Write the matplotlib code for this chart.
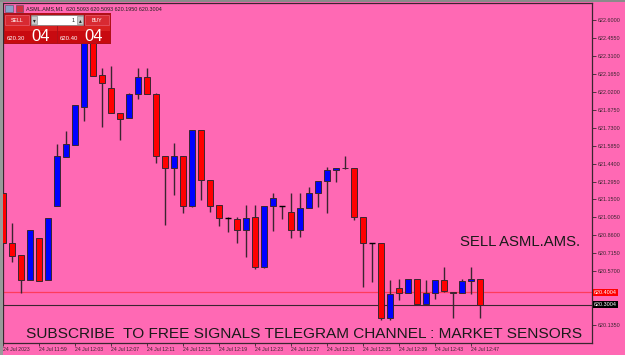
import matplotlib.pyplot as plt
import matplotlib.transforms as mtrans
from matplotlib.patches import Rectangle

# M1 candles, index 0 = 24 Jul 11:55
opens = [621.200, 620.796, 620.699, 620.500, 620.843, 620.496, 621.095, 621.496, 621.593, 621.897,
         622.460, 622.153, 622.051, 621.846, 621.806, 622.005, 622.142, 621.999, 621.499, 621.404,
         621.504, 621.099, 621.709, 621.308, 621.103, 620.998, 620.995, 620.904, 621.006, 620.602,
         621.097, 621.095, 621.049, 620.901, 621.084, 621.200, 621.297, 621.391, 621.402, 621.402,
         621.006, 620.796, 620.796, 620.195, 620.437, 620.397, 620.505, 620.303, 620.397, 620.497,
         620.405, 620.392, 620.489, 620.5093]
highs = [621.200, 620.958, 620.699, 620.901, 620.843, 621.003, 621.598, 621.703, 621.911, 622.500,
         622.520, 622.210, 622.231, 621.846, 622.012, 622.210, 622.210, 622.012, 621.499, 621.604,
         621.504, 621.709, 621.709, 621.308, 621.103, 621.011, 621.011, 621.103, 621.103, 621.095,
         621.205, 621.100, 621.205, 621.200, 621.253, 621.299, 621.410, 621.402, 621.504, 621.402,
         621.006, 620.800, 620.796, 620.500, 620.505, 620.505, 620.505, 620.500, 620.497, 620.607,
         620.405, 620.505, 620.607, 620.5093]
lows = [620.800, 620.643, 620.392, 620.500, 620.494, 620.496, 621.095, 621.496, 621.593, 621.787,
        622.150, 621.738, 621.846, 621.631, 621.806, 621.959, 621.999, 621.442, 620.942, 621.189,
        621.041, 621.090, 621.146, 621.051, 620.938, 620.890, 620.801, 620.688, 620.586, 620.600,
        620.896, 620.990, 620.841, 620.850, 621.084, 621.092, 621.043, 621.294, 621.400, 620.984,
        620.446, 620.486, 620.177, 620.177, 620.338, 620.397, 620.303, 620.303, 620.349, 620.405,
        620.193, 620.392, 620.387, 620.1950]
closes = [620.800, 620.696, 620.502, 620.901, 620.494, 620.997, 621.501, 621.596, 621.911, 622.470,
          622.150, 622.094, 621.846, 621.798, 622.002, 622.142, 621.999, 621.499, 621.404, 621.504,
          621.101, 621.709, 621.310, 621.101, 621.000, 620.998, 620.904, 621.003, 620.602, 621.095,
          621.165, 621.095, 620.901, 621.081, 621.200, 621.299, 621.391, 621.402, 621.404, 621.006,
          620.796, 620.796, 620.190, 620.387, 620.397, 620.505, 620.303, 620.395, 620.497, 620.408,
          620.395, 620.488, 620.505, 620.3004]

bid = 620.3004
ask = 620.4004
price_ticks = [622.6000, 622.4550, 622.3100, 622.1650, 622.0200, 621.8750, 621.7300, 621.5850, 621.4400,
               621.2950, 621.1500, 621.0050, 620.8600, 620.7150, 620.5700, 620.4250, 620.2800, 620.1350]
time_ticks = [0, 4, 8, 12, 16, 20, 24, 28, 32, 36, 40, 44, 48, 52]
time_labels = ["24 Jul 2023", "24 Jul 11:59", "24 Jul 12:03", "24 Jul 12:07", "24 Jul 12:11",
               "24 Jul 12:15", "24 Jul 12:19", "24 Jul 12:23", "24 Jul 12:27", "24 Jul 12:31",
               "24 Jul 12:35", "24 Jul 12:39", "24 Jul 12:43", "24 Jul 12:47"]

plt.rcParams['font.family'] = ['Liberation Sans', 'DejaVu Sans']
PINK = '#ff69b4'
DARK = '#3a2530'
W, H = 625, 355

fig = plt.figure(figsize=(6.25, 3.55), dpi=100, facecolor=PINK)


def fx(px):
    return px / W


def fy(py):
    return 1 - py / H


def prect(x0, y0, x1, y1, color, ec='none', lw=0.6, z=20):
    fig.add_artist(Rectangle((fx(x0), fy(y1)), fx(x1) - fx(x0), fy(y0) - fy(y1),
                             transform=fig.transFigure, facecolor=color, edgecolor=ec,
                             linewidth=lw, zorder=z))


ax = fig.add_axes([fx(3), fy(343), fx(592) - fx(3), fy(3) - fy(343)])
ax.set_facecolor(PINK)

for i in range(len(opens)):
    o, h, l, c = opens[i], highs[i], lows[i], closes[i]
    ax.vlines(i, l, h, color=DARK, lw=1, zorder=2)
    if c > o:
        ax.bar(i, c - o, bottom=o, width=0.68, color='#0000ff', edgecolor=DARK, lw=0.7, zorder=3)
    elif c < o:
        ax.bar(i, o - c, bottom=c, width=0.68, color='#ff0000', edgecolor=DARK, lw=0.7, zorder=3)
    else:
        ax.hlines(o, i - 0.34, i + 0.34, color='black', lw=1, zorder=3)

ax.axhline(ask, color='#ff3b5c', lw=0.9, zorder=1)
ax.axhline(bid, color=DARK, lw=0.8, zorder=1)

ax.set_xlim((3 - 2.8) / 9, (592 - 2.8) / 9)
ax.set_ylim(619.991, 622.737)

ax.yaxis.tick_right()
ax.set_yticks(price_ticks)
# the two labels sitting under the bid/ask markers are covered in the terminal
ax.set_yticklabels(["" if abs(p - ask) < 0.05 or abs(p - bid) < 0.05 else f"{p:.4f}"
                    for p in price_ticks])
ax.set_xticks(time_ticks)
ax.set_xticklabels(time_labels, ha='left')
ax.tick_params(axis='y', direction='out', length=3, width=0.6, pad=1, labelsize=3.9, colors=DARK)
ax.tick_params(axis='x', direction='out', length=2, width=0.6, pad=1, labelsize=3.7, colors=DARK)
for s in ax.spines.values():
    s.set_color(DARK)
    s.set_linewidth(0.9)

# price markers on the axis
btr = mtrans.blended_transform_factory(ax.transAxes, ax.transData)
ax.text(1.003, ask, f"{ask:.4f}", transform=btr, fontsize=3.9, color='white', va='center', ha='left',
        zorder=10, clip_on=False, bbox=dict(facecolor='#ff0000', edgecolor='none', pad=0.9))
ax.text(1.003, bid, f"{bid:.4f}", transform=btr, fontsize=3.9, color='white', va='center', ha='left',
        zorder=10, clip_on=False, bbox=dict(facecolor='#000000', edgecolor='none', pad=0.9))

# watermark texts
fig.text(fx(460), fy(246.5), "SELL ASML.AMS.", fontsize=10.7, color='#1a1a1a', va='baseline', ha='left')
fig.text(fx(26), fy(338), "SUBSCRIBE  TO FREE SIGNALS TELEGRAM CHANNEL : MARKET SENSORS",
         fontsize=11.05, color='#1a1a1a', va='baseline', ha='left')

# window edges
prect(0, 0, 3, H, '#9a9a9a', z=1)
prect(0, 0, W, 2, '#8a8a8a', z=1)

# title line with icons
prect(5, 5, 13, 12, '#8aa0c8', ec='#505060', lw=0.4)
prect(16, 5, 23, 12, '#d03040', ec='#505060', lw=0.4)
fig.text(fx(26), fy(9), "ASML.AMS,M1  620.5093 620.5093 620.1950 620.3004", fontsize=3.9,
         color='#202020', va='center', ha='left', zorder=21)

# one-click trading panel
prect(4, 13, 111, 44, '#b01018', z=19)
prect(5, 15, 29, 25, '#d82a32', ec='#f06070', lw=0.5)
prect(85, 15, 109, 25, '#d82a32', ec='#f06070', lw=0.5)
prect(31, 15, 83, 25, 'white', ec='#808080', lw=0.5)
prect(31, 16, 37, 24, '#c8c8c8', ec='#808080', lw=0.4, z=21)
prect(77, 16, 83, 24, '#c8c8c8', ec='#808080', lw=0.4, z=21)
prect(5, 26, 57, 43, '#c80a10', z=20)
prect(58, 26, 110, 43, '#c80a10', z=20)
prect(5, 26, 57, 31, '#d82020', z=20)
prect(58, 26, 110, 31, '#d82020', z=20)
fig.text(fx(17), fy(20), "SELL", fontsize=3.8, color='white', ha='center', va='center', zorder=22)
fig.text(fx(97), fy(20), "BUY", fontsize=3.8, color='white', ha='center', va='center', zorder=22)
fig.text(fx(34), fy(20.3), "▾", fontsize=4, color='#202020', ha='center', va='center', zorder=22)
fig.text(fx(80), fy(20.3), "▴", fontsize=4, color='#202020', ha='center', va='center', zorder=22)
fig.text(fx(75), fy(20), "1", fontsize=4, color='#202020', ha='right', va='center', zorder=22)
fig.text(fx(7), fy(40.5), "620.30", fontsize=4.3, color='white', ha='left', va='baseline', zorder=22)
fig.text(fx(31), fy(41), "04", fontsize=12, color='white', ha='left', va='baseline', zorder=22)
fig.text(fx(60), fy(40.5), "620.40", fontsize=4.3, color='white', ha='left', va='baseline', zorder=22)
fig.text(fx(84), fy(41), "04", fontsize=12, color='white', ha='left', va='baseline', zorder=22)

fig.savefig('out.png', dpi=100, facecolor=PINK)
